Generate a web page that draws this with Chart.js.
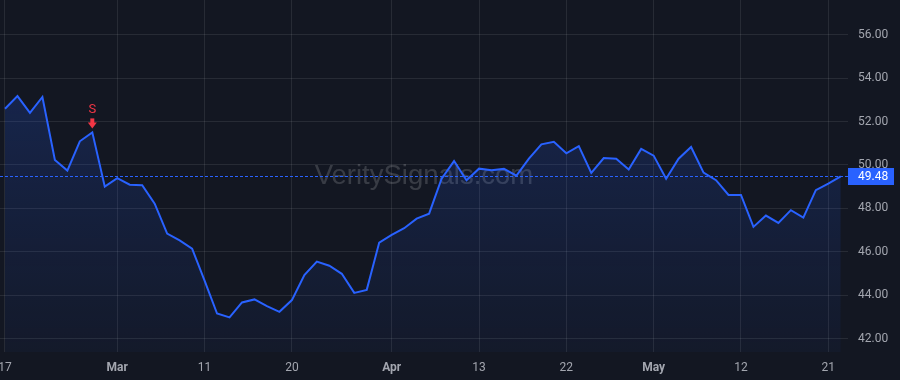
<!DOCTYPE html>
<html>
<head>
<meta charset="utf-8">
<script src="https://cdn.jsdelivr.net/npm/chart.js@4.4.1/dist/chart.umd.min.js"></script>
<style>
    html, body { margin: 0; padding: 0; background: #131722; }
    #wrap { width: 900px; height: 380px; }
</style>
</head>
<body>
<div id="wrap"><canvas id="priceChart" width="900" height="380"></canvas></div>
<script>
// closing prices, one per bar
const prices = [
    52.59, 53.17, 52.40, 53.13, 50.23, 49.74, 51.09, 51.50, 49.00, 49.39,
    49.09, 49.07, 48.22, 46.84, 46.53, 46.15, 44.68, 43.16, 42.98, 43.67,
    43.81, 43.50, 43.24, 43.78, 44.93, 45.55, 45.36, 44.99, 44.11, 44.25,
    46.43, 46.78, 47.09, 47.53, 47.76, 49.37, 50.18, 49.30, 49.83, 49.76,
    49.82, 49.51, 50.29, 50.95, 51.07, 50.54, 50.87, 49.63, 50.32, 50.29,
    49.79, 50.74, 50.43, 49.37, 50.29, 50.83, 49.65, 49.30, 48.62, 48.62,
    47.15, 47.67, 47.33, 47.92, 47.58, 48.84, 49.14, 49.48
];

// x axis labels and the bar they sit on
const tickBars = [0, 9, 16, 23, 31, 38, 45, 52, 59, 66];
const tickText = ["17", "Mar", "11", "20", "Apr", "13", "22", "May", "12", "21"];
const monthNames = ["Mar", "Apr", "May"];

const priceTicks = [42, 44, 46, 48, 50, 52, 54, 56];

// sell signal markers (bar index, letter)
const signalBars = [7];
const signalText = ["S"];

const watermark = "VeritySignals.com";

const FONT = "Roboto, 'Liberation Sans', sans-serif";
const BLUE = "#2962ff";
const RED = "#f23645";
const TEXT = "#a3a6af";
const GRID = "rgba(255, 255, 255, 0.085)";

const lastPrice = prices[prices.length - 1];

const watermarkPlugin = {
    id: "watermark",
    beforeDatasetsDraw(chart) {
        const { ctx, chartArea } = chart;
        ctx.save();
        ctx.font = "27.5px 'Liberation Sans', Arial, sans-serif";
        ctx.fillStyle = "rgba(255, 255, 255, 0.16)";
        ctx.textAlign = "center";
        ctx.textBaseline = "middle";
        ctx.fillText(watermark, (chartArea.left + chartArea.right) / 2, (chartArea.top + chartArea.bottom) / 2);
        ctx.restore();
    },
};

const priceLinePlugin = {
    id: "priceLine",
    afterDatasetsDraw(chart) {
        const { ctx, chartArea } = chart;
        const y = Math.round(chart.scales.y.getPixelForValue(lastPrice)) + 0.5;

        ctx.save();
        ctx.strokeStyle = BLUE;
        ctx.lineWidth = 1;
        ctx.setLineDash([3, 2]);
        ctx.beginPath();
        ctx.moveTo(chartArea.left, y);
        ctx.lineTo(chartArea.right, y);
        ctx.stroke();
        ctx.setLineDash([]);

        // signal markers
        const meta = chart.getDatasetMeta(0);
        signalBars.forEach((bar, i) => {
            const pt = meta.data[bar];
            const x = pt.x;
            const top = pt.y - 14;
            ctx.fillStyle = RED;
            ctx.fillRect(x - 2, top, 4, 5);
            ctx.beginPath();
            ctx.moveTo(x - 4.5, top + 4);
            ctx.lineTo(x + 4.5, top + 4);
            ctx.lineTo(x, top + 10);
            ctx.closePath();
            ctx.fill();
            ctx.font = "13px " + FONT;
            ctx.textAlign = "center";
            ctx.textBaseline = "middle";
            ctx.fillText(signalText[i], x, pt.y - 23);
        });
        ctx.restore();
    },
    afterDraw(chart) {
        const { ctx, chartArea } = chart;
        const y = chart.scales.y.getPixelForValue(lastPrice);
        ctx.save();
        ctx.fillStyle = BLUE;
        ctx.fillRect(chartArea.right, Math.round(y) - 8, 46, 17);
        ctx.fillStyle = "#ffffff";
        ctx.font = "12px " + FONT;
        ctx.textAlign = "left";
        ctx.textBaseline = "middle";
        ctx.fillText(lastPrice.toFixed(2), chartArea.right + 10, Math.round(y) + 0.5);
        ctx.restore();
    },
};

const ctx = document.getElementById("priceChart").getContext("2d");

new Chart(ctx, {
    type: "line",
    data: {
        labels: prices.map((p, i) => i),
        datasets: [
            {
                label: "Close",
                data: prices,
                borderColor: BLUE,
                borderWidth: 2,
                pointRadius: 0,
                tension: 0,
                fill: "start",
                backgroundColor: (c) => {
                    const area = c.chart.chartArea;
                    if (!area) return "rgba(41, 98, 255, 0.12)";
                    const g = c.chart.ctx.createLinearGradient(0, area.top, 0, area.bottom);
                    g.addColorStop(0, "rgba(41, 98, 255, 0.24)");
                    g.addColorStop(1, "rgba(41, 98, 255, 0.04)");
                    return g;
                },
            },
        ],
    },
    options: {
        responsive: false,
        animation: false,
        layout: { padding: 0 },
        plugins: {
            legend: { display: false },
            tooltip: { enabled: false },
        },
        scales: {
            x: {
                type: "linear",
                min: -0.4,
                max: 67.58,
                afterBuildTicks: (axis) => {
                    axis.ticks = tickBars.map((v) => ({ value: v }));
                },
                afterFit: (axis) => {
                    axis.height = 28;
                    axis.paddingLeft = 0;
                    axis.paddingRight = 0;
                },
                grid: { color: GRID, drawTicks: false },
                border: { display: false },
                ticks: {
                    autoSkip: false,
                    maxRotation: 0,
                    padding: 9,
                    color: TEXT,
                    font: (c) => ({
                        family: FONT,
                        size: 12,
                        weight: monthNames.includes(tickText[c.index]) ? "bold" : "normal",
                    }),
                    callback: (value, index) => tickText[index],
                },
            },
            y: {
                position: "right",
                min: 41.39,
                max: 57.595,
                afterBuildTicks: (axis) => {
                    axis.ticks = priceTicks.map((v) => ({ value: v }));
                },
                afterFit: (axis) => {
                    axis.width = 52;
                    axis.paddingTop = 0;
                    axis.paddingBottom = 0;
                },
                grid: { color: GRID, drawTicks: false },
                border: { display: false },
                ticks: {
                    padding: 10,
                    color: TEXT,
                    font: { family: FONT, size: 12 },
                    callback: (value) => value.toFixed(2),
                },
            },
        },
    },
    plugins: [watermarkPlugin, priceLinePlugin],
});
</script>
</body>
</html>
